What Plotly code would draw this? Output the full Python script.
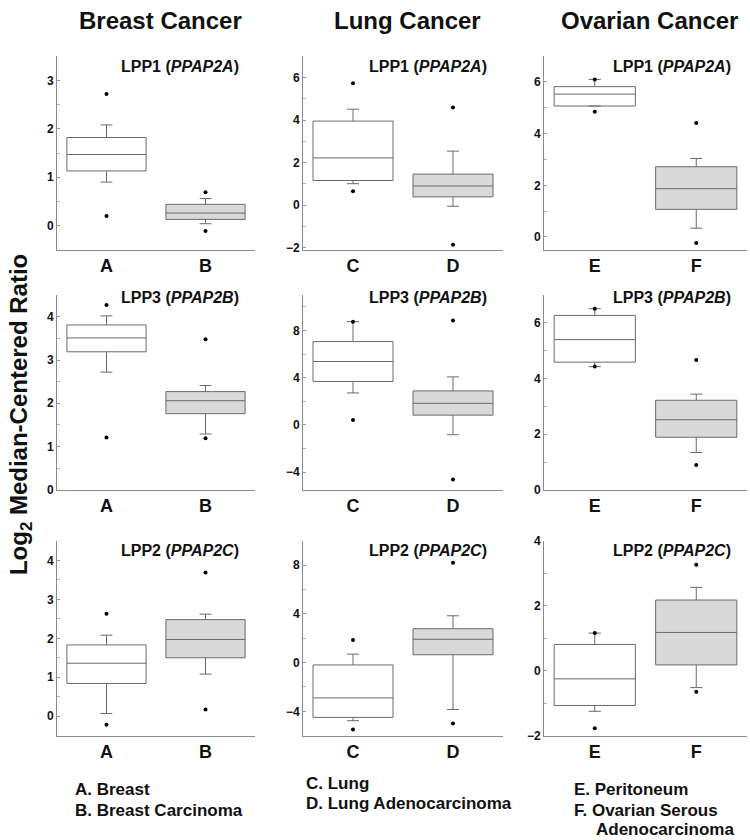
import plotly.graph_objects as go

W, H = 750, 840
FONT = "Liberation Sans, Arial, sans-serif"

# ---------------- data ----------------
CATEGORIES = ["A", "B", "C", "D", "E", "F"]
CANCERS = ["Breast Cancer", "Lung Cancer", "Ovarian Cancer"]
GENES = ["LPP1 (<i>PPAP2A</i>)", "LPP3 (<i>PPAP2B</i>)", "LPP2 (<i>PPAP2C</i>)"]
LEGEND_COL1 = ["A. Breast", "B. Breast Carcinoma"]
LEGEND_COL2 = ["C. Lung", "D. Lung Adenocarcinoma"]
LEGEND_COL3 = ["E. Peritoneum", "F. Ovarian Serous", "Adenocarcinoma"]

# order of values: A, B, C, D, E, F
LPP1_Q1 = [1.13, 0.13, 1.16, 0.39, 5.07, 1.07]
LPP1_MED = [1.47, 0.26, 2.22, 0.90, 5.53, 1.87]
LPP1_Q3 = [1.82, 0.44, 3.95, 1.46, 5.82, 2.72]
LPP1_LOW = [0.90, 0.04, 1.01, -0.05, 5.07, 0.34]
LPP1_HIGH = [2.08, 0.56, 4.51, 2.54, 6.10, 3.04]
LPP1_P05 = [0.20, -0.11, 0.66, -1.86, 4.85, -0.23]
LPP1_P95 = [2.72, 0.69, 5.73, 4.59, 6.10, 4.41]

LPP3_Q1 = [3.19, 1.76, 3.68, 0.83, 4.59, 1.89]
LPP3_MED = [3.51, 2.06, 5.37, 1.83, 5.40, 2.52]
LPP3_Q3 = [3.81, 2.27, 7.06, 2.88, 6.27, 3.22]
LPP3_LOW = [2.72, 1.29, 2.71, -0.83, 4.43, 1.34]
LPP3_HIGH = [4.02, 2.41, 8.75, 4.07, 6.51, 3.44]
LPP3_P05 = [1.21, 1.19, 0.42, -4.63, 4.43, 0.89]
LPP3_P95 = [4.27, 3.48, 8.75, 8.84, 6.51, 4.67]

LPP2_Q1 = [0.84, 1.50, -4.50, 0.65, -1.07, 0.18]
LPP2_MED = [1.36, 1.97, -2.90, 1.92, -0.25, 1.18]
LPP2_Q3 = [1.83, 2.48, -0.19, 2.79, 0.81, 2.18]
LPP2_LOW = [0.07, 1.08, -4.77, -3.85, -1.25, -0.52]
LPP2_HIGH = [2.08, 2.62, 0.70, 3.85, 1.16, 2.57]
LPP2_P05 = [-0.22, 0.17, -5.50, -5.01, -1.77, -0.65]
LPP2_P95 = [2.63, 3.69, 1.87, 8.21, 1.16, 3.27]

ROWS = [
    (LPP1_Q1, LPP1_MED, LPP1_Q3, LPP1_LOW, LPP1_HIGH, LPP1_P05, LPP1_P95),
    (LPP3_Q1, LPP3_MED, LPP3_Q3, LPP3_LOW, LPP3_HIGH, LPP3_P05, LPP3_P95),
    (LPP2_Q1, LPP2_MED, LPP2_Q3, LPP2_LOW, LPP2_HIGH, LPP2_P05, LPP2_P95),
]

# ---------------- layout helpers ----------------
def px(x):
    return x / W


def py(y):
    return 1 - y / H


COL_X = [(57, 255), (303, 503), (544, 747)]
ROW_Y = [(50, 247), (293, 491), (543, 741)]
TITLE_Y = [61, 295, 553]

Y_RANGE = [
    [(-0.5, 3.5), (-2.1, 7), (-0.5, 7)],
    [(0, 4.5), (-5.5, 11), (0, 7)],
    [(-0.5, 4.5), (-6, 10), (-2, 4)],
]
Y_DTICK = [[1, 2, 2], [1, 4, 2], [1, 4, 2]]

BOX_LINE = "#6a6a6a"
AXIS_LINE = "#8a8a8a"
FILLS = ["#ffffff", "#d9d9d9"]

fig = go.Figure()
layout = dict(
    width=W,
    height=H,
    margin=dict(l=0, r=0, t=0, b=0),
    paper_bgcolor="white",
    plot_bgcolor="white",
    showlegend=False,
    boxmode="overlay",
    font=dict(family=FONT, color="#111111"),
)
annotations = []

for r in range(3):
    q1, med, q3, lo, hi, p05, p95 = ROWS[r]
    for c in range(3):
        k = r * 3 + c + 1
        xa = "x" if k == 1 else f"x{k}"
        ya = "y" if k == 1 else f"y{k}"
        cats = CATEGORIES[2 * c: 2 * c + 2]
        for i, cat in enumerate(cats):
            j = 2 * c + i
            fig.add_trace(go.Box(
                x=[cat], q1=[q1[j]], median=[med[j]], q3=[q3[j]],
                lowerfence=[lo[j]], upperfence=[hi[j]],
                boxpoints=False, width=0.8, whiskerwidth=0.15,
                fillcolor=FILLS[i], line=dict(color=BOX_LINE, width=1),
                xaxis=xa, yaxis=ya, hoverinfo="skip",
            ))
            fig.add_trace(go.Scatter(
                x=[cat, cat], y=[p05[j], p95[j]], mode="markers",
                marker=dict(color="black", size=4),
                xaxis=xa, yaxis=ya, hoverinfo="skip",
            ))
        x0, x1 = COL_X[c]
        y0, y1 = ROW_Y[r]
        xkey = "xaxis" if k == 1 else f"xaxis{k}"
        ykey = "yaxis" if k == 1 else f"yaxis{k}"
        layout[xkey] = dict(
            domain=[px(x0), px(x1)], anchor=ya, type="category",
            categoryorder="array", categoryarray=cats, range=[-0.5, 1.5],
            showline=True, linecolor=AXIS_LINE, linewidth=1, ticks="",
            showgrid=False, zeroline=False,
            tickfont=dict(family=FONT, size=18, color="#111111", weight="bold"),
        )
        d = Y_DTICK[r][c]
        layout[ykey] = dict(
            domain=[py(y1), py(y0)], anchor=xa, range=list(Y_RANGE[r][c]),
            tick0=0, dtick=d, showline=True, linecolor=AXIS_LINE, linewidth=1,
            ticks="inside", ticklen=3, tickcolor="#9a9a9a",
            minor=dict(dtick=d / 2, ticks="inside", ticklen=3, tickcolor="#b0b0b0"),
            showgrid=False, zeroline=False,
            tickfont=dict(family=FONT, size=12, color="#111111", weight="bold"),
        )
        annotations.append(dict(
            text=GENES[r], xref="paper", yref="paper",
            x=px(x1 - 14), y=py(TITLE_Y[r]), xanchor="right", yanchor="middle",
            showarrow=False,
            font=dict(family=FONT, size=16, color="#111111", weight="bold"),
        ))

# column titles
for c in range(3):
    x0, x1 = COL_X[c]
    annotations.append(dict(
        text=CANCERS[c], xref="paper", yref="paper",
        x=px((x0 + x1) / 2 + 4), y=py(14), xanchor="center", yanchor="middle",
        showarrow=False, font=dict(family=FONT, size=24, color="#111111", weight="bold"),
    ))

# y axis title
annotations.append(dict(
    text="Log<sub>2</sub> Median-Centered Ratio", xref="paper", yref="paper",
    x=px(20), y=py(415), xanchor="center", yanchor="middle", textangle=-90,
    showarrow=False, font=dict(family=FONT, size=24, color="#111111", weight="bold"),
))

# legends under columns
LEG_X = [73, 304, 572]
LEG_Y = [[796, 817], [790, 810], [796, 817, 836]]
for c, lines in enumerate([LEGEND_COL1, LEGEND_COL2, LEGEND_COL3]):
    for i, t in enumerate(lines):
        xx = LEG_X[c] + (22 if (c == 2 and i == 2) else 0)
        annotations.append(dict(
            text=t, xref="paper", yref="paper", x=px(xx), y=py(LEG_Y[c][i]),
            xanchor="left", yanchor="middle", showarrow=False,
            font=dict(family=FONT, size=17, color="#111111", weight="bold"),
        ))

layout["annotations"] = annotations
fig.update_layout(**layout)
fig.write_html(
    "out.html",
    config={"displayModeBar": False},
    post_script="document.body.style.margin='0';document.body.style.overflow='hidden';",
)
